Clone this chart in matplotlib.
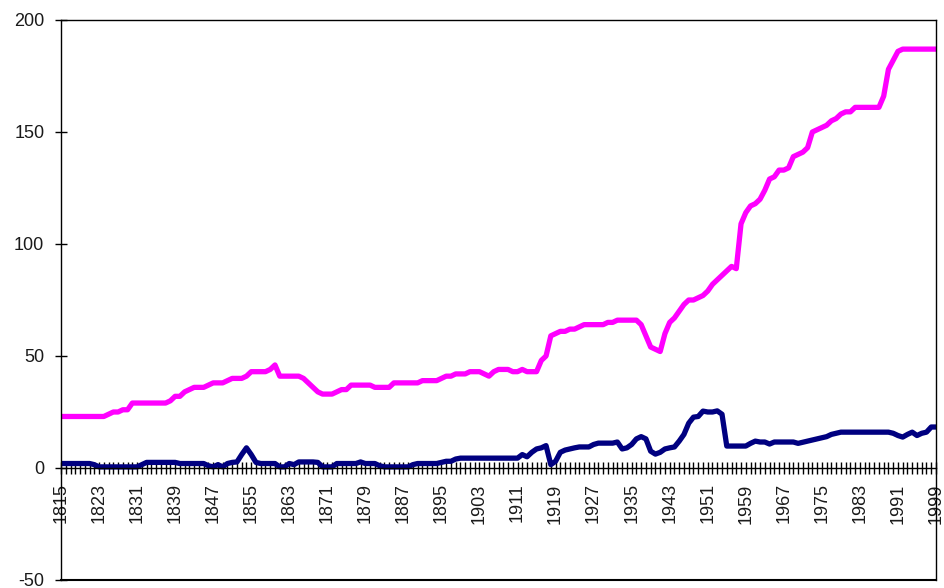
import numpy as np
import matplotlib.pyplot as plt

plt.rcParams['font.family'] = ['Liberation Sans', 'DejaVu Sans']
plt.rcParams['axes.unicode_minus'] = False

# one value per year, 1815..1999
years = list(range(1815, 2000))

upper = [
    23, 23, 23, 23, 23, 23, 23, 23, 23, 23,          # 1815-1824
    24, 25, 25, 26, 26, 29, 29, 29, 29, 29,          # 1825-1834
    29, 29, 29, 30, 32, 32, 34, 35, 36, 36,          # 1835-1844
    36, 37, 38, 38, 38, 39, 40, 40, 40, 41,          # 1845-1854
    43, 43, 43, 43, 44, 46, 41, 41, 41, 41,          # 1855-1864
    41, 40, 38, 36, 34, 33, 33, 33, 34, 35,          # 1865-1874
    35, 37, 37, 37, 37, 37, 36, 36, 36, 36,          # 1875-1884
    38, 38, 38, 38, 38, 38, 39, 39, 39, 39,          # 1885-1894
    40, 41, 41, 42, 42, 42, 43, 43, 43, 42,          # 1895-1904
    41, 43, 44, 44, 44, 43, 43, 44, 43, 43,          # 1905-1914
    43, 48, 50, 59, 60, 61, 61, 62, 62, 63,          # 1915-1924
    64, 64, 64, 64, 64, 65, 65, 66, 66, 66,          # 1925-1934
    66, 66, 64, 59, 54, 53, 52, 60, 65, 67,          # 1935-1944
    70, 73, 75, 75, 76, 77, 79, 82, 84, 86,          # 1945-1954
    88, 90, 89, 109, 114, 117, 118, 120, 124, 129,   # 1955-1964
    130, 133, 133, 134, 139, 140, 141, 143, 150, 151,  # 1965-1974
    152, 153, 155, 156, 158, 159, 159, 161, 161, 161,  # 1975-1984
    161, 161, 161, 166, 178, 182, 186, 187, 187, 187,  # 1985-1994
    187, 187, 187, 187, 187,                           # 1995-1999
]

lower = [
    2, 2, 2, 2, 2, 2, 2, 1.5, 0.5, 0.5,              # 1815-1824
    0.5, 0.5, 0.5, 0.5, 0.5, 0.5, 0.5, 1.5, 2.5, 2.5,  # 1825-1834
    2.5, 2.5, 2.5, 2.5, 2.5, 2, 2, 2, 2, 2,          # 1835-1844
    2, 1, 0.5, 1.5, 0.5, 2, 2.5, 2.7, 6, 9,          # 1845-1854
    6, 2.5, 2, 2, 2, 2, 0.5, 0.5, 2, 1.5,            # 1855-1864
    2.7, 2.7, 2.7, 2.7, 2.5, 0.5, 0.5, 0.5, 2, 2,    # 1865-1874
    2, 2, 2, 2.7, 2, 2, 2, 1, 0.5, 0.5,              # 1875-1884
    0.5, 0.5, 0.5, 0.5, 1.5, 2, 2, 2, 2, 2,          # 1885-1894
    2.5, 3, 3, 4, 4.4, 4.4, 4.4, 4.4, 4.4, 4.4,      # 1895-1904
    4.4, 4.4, 4.4, 4.4, 4.4, 4.4, 4.4, 6, 5, 7,      # 1905-1914
    8.5, 9, 10, 1.5, 3, 7, 8, 8.5, 9, 9.4,           # 1915-1924
    9.4, 9.4, 10.5, 11.1, 11.1, 11.1, 11.1, 11.6, 8.5, 9,  # 1925-1934
    10.5, 13, 14, 13, 7.5, 6.2, 7, 8.5, 9, 9.4,      # 1935-1944
    12, 15, 20, 22.7, 23, 25.4, 25, 25, 25.5, 24,    # 1945-1954
    9.8, 9.8, 9.8, 9.8, 9.8, 11, 12, 11.6, 11.6, 10.7,  # 1955-1964
    11.6, 11.6, 11.6, 11.6, 11.6, 11, 11.5, 12, 12.5, 13,  # 1965-1974
    13.5, 14, 15, 15.5, 16, 16, 16, 16, 16, 16,      # 1975-1984
    16, 16, 16, 16, 16, 15.5, 14.5, 13.8, 15, 16,    # 1985-1994
    14.5, 15.5, 16, 18.3, 18.3,                      # 1995-1999
]

tick_labels = [str(y) if (y - 1815) % 8 == 0 else '' for y in years]

fig = plt.figure(figsize=(9.44, 5.88), dpi=100)
ax = fig.add_axes([61 / 944, 8 / 588, 875 / 944, 560 / 588])

ax.plot(years, upper, color='#FF00FF', lw=3.8, solid_joinstyle='round')
ax.plot(years, lower, color='#000080', lw=3.8, solid_joinstyle='round')

ax.set_xlim(1815, 1999)
ax.set_ylim(-50, 200)
ax.set_yticks([-50, 0, 50, 100, 150, 200])

# category axis sits at zero, every year gets a tick
ax.spines['bottom'].set_position(('data', 0))
ax.set_xticks(years)
ax.set_xticklabels(tick_labels, rotation=90, fontsize=13, color='#1a1a1a')
ax.tick_params(axis='x', direction='inout', length=8, width=1, pad=7)
ax.tick_params(axis='y', direction='inout', length=8, width=1, pad=8,
               labelsize=13, labelcolor='#1a1a1a')

for s in ['left', 'top', 'right', 'bottom']:
    ax.spines[s].set_linewidth(1)
    ax.spines[s].set_color('black')
ax.axhline(-50, color='black', lw=1.5, clip_on=False)

fig.savefig('out.png', dpi=100)
